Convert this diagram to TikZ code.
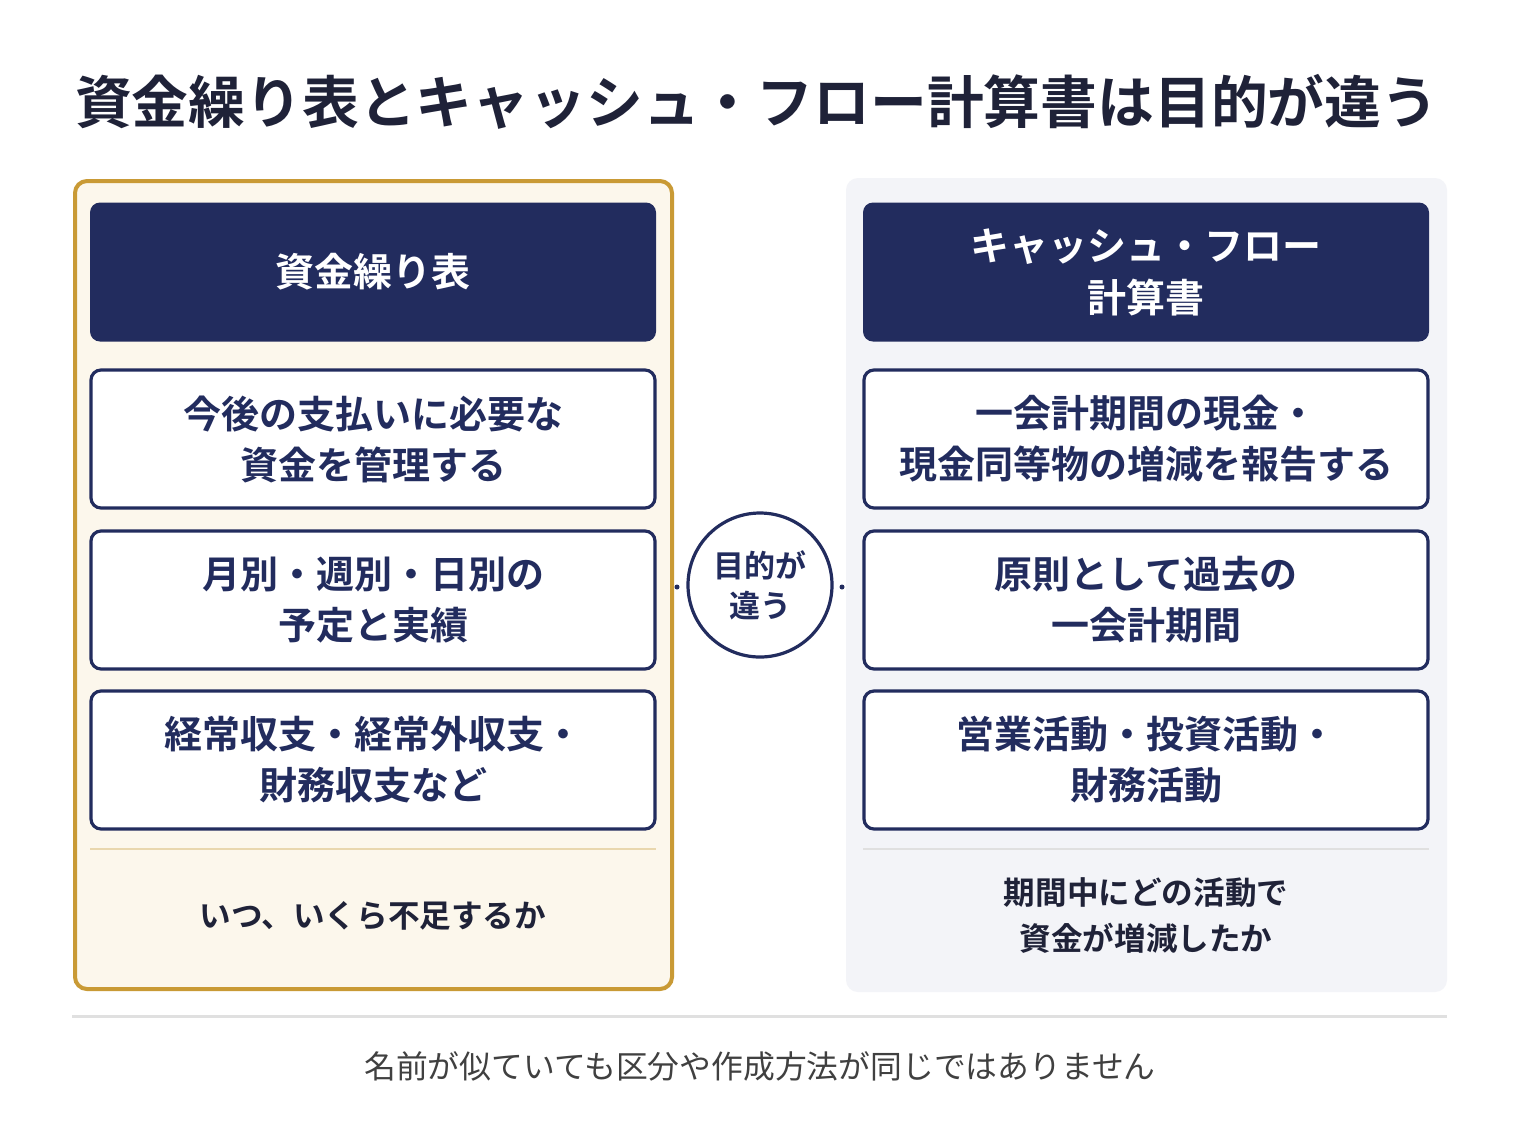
\documentclass[tikz,border=0pt]{standalone}
\usepackage{fontspec}
\setmainfont{Noto Sans CJK JP}[BoldFont={* Bold}]
\usetikzlibrary{positioning}
\definecolor{navy}{HTML}{222C5E}
\definecolor{ink}{HTML}{1F2238}
\definecolor{gold}{HTML}{C99A35}
\definecolor{cream}{HTML}{FCF7EC}
\definecolor{mist}{HTML}{F3F4F8}
\tikzset{
  head/.style={fill=navy, rounded corners=5pt, minimum width=283pt, minimum height=69.5pt,
    text=white, font=\bfseries\fontsize{19.5}{26}\selectfont, align=center},
  item/.style={draw=navy, line width=1.6pt, fill=white, rounded corners=5pt,
    minimum width=282pt, minimum height=69pt, text=navy,
    font=\bfseries\fontsize{19}{25.5}\selectfont, align=center},
  note/.style={text=ink, font=\bfseries\fontsize{15.8}{23}\selectfont, align=center},
}
\begin{document}
\begin{tikzpicture}[x=0.5pt, y=-0.5pt]
    \useasboundingbox (0,0) rectangle (1520,1142);
    \fill[white] (0,0) rectangle (1520,1142);
    % title
    \node[anchor=west, text=ink, font=\bfseries\fontsize{28.4}{34}\selectfont] (title) at (68,102)
        {資金繰り表とキャッシュ・フロー計算書は目的が違う};
    % panels
    \draw[gold, fill=cream, line width=2pt, rounded corners=6pt] (75,181) rectangle (672,989);
    \fill[mist, rounded corners=6pt] (846,178) rectangle (1447,992);
    % left column
    \node[head] (lh) at (373,272) {資金繰り表};
    \node[item] (l1) at (373,439) {今後の支払いに必要な\\資金を管理する};
    \node[item] (l2) at (373,600) {月別・週別・日別の\\予定と実績};
    \node[item] (l3) at (373,760) {経常収支・経常外収支・\\財務収支など};
    \draw[gold!40, line width=1.2pt] (90,849) -- (656,849);
    \node[note] (ln) at (373,916) {いつ、いくら不足するか};
    % right column
    \node[head] (rh) at (1146,272) {キャッシュ・フロー\\計算書};
    \node[item] (r1) at (1146,439) {一会計期間の現金・\\現金同等物の増減を報告する};
    \node[item] (r2) at (1146,600) {原則として過去の\\一会計期間};
    \node[item] (r3) at (1146,760) {営業活動・投資活動・\\財務活動};
    \draw[black!12, line width=1.2pt] (863,849) -- (1429,849);
    \node[note] (rn) at (1146,916) {期間中にどの活動で\\資金が増減したか};
    % middle
    \node[circle, draw=navy, line width=1.6pt, fill=white, minimum size=72pt, text=navy,
        font=\bfseries\fontsize{15.5}{20}\selectfont, align=center] (mid) at (760,585) {目的が\\違う};
    \fill[navy] (677,587) circle (2.5);
    \fill[navy] (842,587) circle (2.5);
    % footer
    \draw[black!12, line width=1.5pt] (72,1016) -- (1447,1016);
    \node[text=black!75, font=\fontsize{15.9}{20}\selectfont] (foot) at (760,1066)
        {名前が似ていても区分や作成方法が同じではありません};
\end{tikzpicture}
\end{document}
